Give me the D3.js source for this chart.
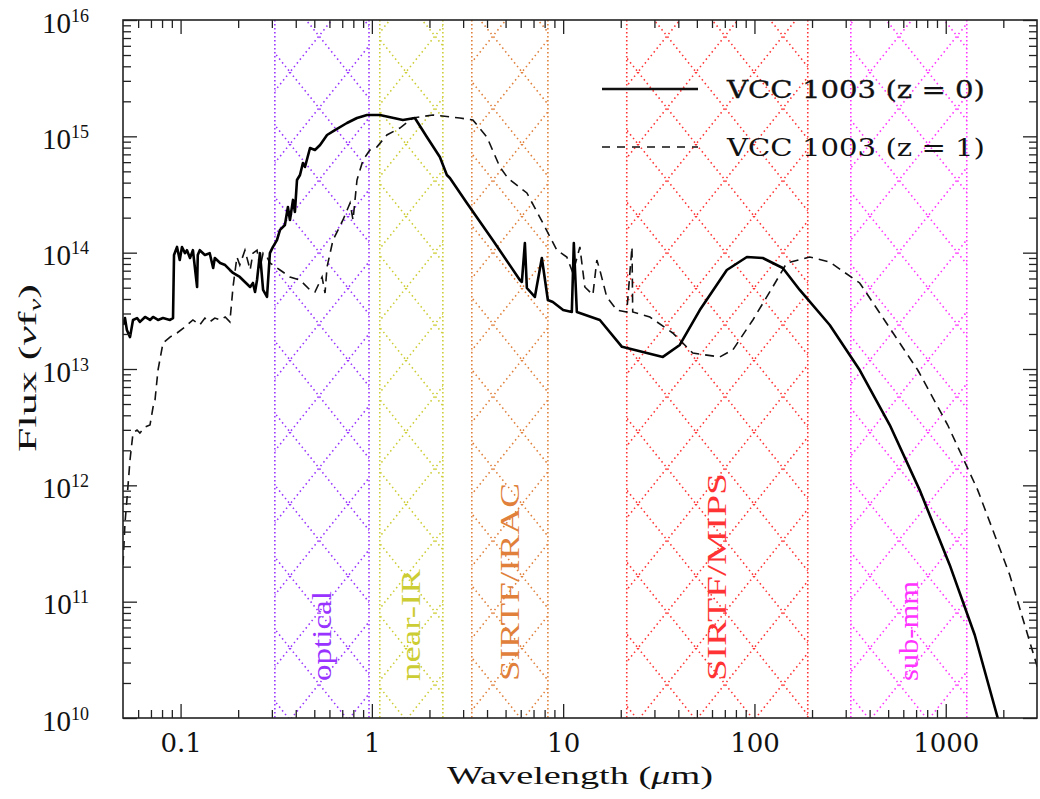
<!DOCTYPE html>
<html>
<head>
<meta charset="utf-8">
<script src="https://cdn.jsdelivr.net/npm/d3@7"></script>
<style>
body { margin: 0; background: #fff; }
svg { display: block; }
</style>
</head>
<body>
<svg width="1040" height="799"></svg>
<script>
// wavelength (micron) and flux (nu f_nu)
var solidLam = [0.05,0.0512,0.0524,0.0544,0.0564,0.0592,0.0613,0.0652,0.0692,0.0718,0.0762,0.0809,0.088,0.0913,0.0924,0.0958,0.099,0.1017,0.1054,0.108,0.112,0.116,0.122,0.123,0.126,0.134,0.142,0.148,0.151,0.161,0.171,0.181,0.188,0.204,0.217,0.231,0.239,0.245,0.251,0.260,0.270,0.283,0.293,0.304,0.319,0.331,0.351,0.364,0.373,0.387,0.396,0.406,0.421,0.436,0.447,0.475,0.504,0.536,0.583,0.641,0.741,0.836,0.943,1.101,1.452,1.678,1.939,2.267,2.466,2.557,3.138,4.291,5.937,6.084,6.308,6.461,7.112,7.737,8.318,8.834,10.0,11.1,11.37,11.79,15.55,20.3,33.2,40.7,51.8,71.7,91.3,110.5,140.6,172.5,247.5,355,510,731,1049,1418,1870,2161];
var solidFlux = [2.39e13,2.74e13,2.16e13,1.88e13,2.64e13,2.74e13,2.54e13,2.8e13,2.64e13,2.8e13,2.64e13,2.74e13,2.64e13,2.74e13,9.55e13,1.12e14,8.65e13,1.12e14,9.9e13,1.05e14,9.0e13,1.05e14,5.07e13,9.55e13,1.05e14,9.55e13,9.9e13,7.38e13,9.0e13,8.15e13,7.83e13,7.1e13,6.69e13,6.18e13,5.6e13,5.07e13,5.49e13,4.59e13,5.82e13,9.9e13,4.78e13,4.16e13,9.9e13,1.12e14,1.28e14,1.57e14,1.73e14,2.47e14,1.91e14,2.84e14,2.24e14,4.21e14,4.65e14,5.9e14,5.45e14,7.94e14,7.63e14,8.42e14,1.027e15,1.133e15,1.302e15,1.437e15,1.525e15,1.525e15,1.382e15,1.437e15,9.87e14,6.64e14,4.65e14,4.38e14,2.67e14,1.28e14,5.82e13,5.6e13,1.21e14,4.97e13,4.16e13,9.0e13,3.92e13,3.77e13,3.21e13,3.09e13,1.21e14,3.09e13,2.64e13,1.55e13,1.27e13,1.61e13,3.21e13,7.1e13,9.18e13,9.0e13,7.38e13,4.78e13,2.39e13,9.8e12,3.3e12,9.1e11,2.07e11,5.17e10,1.0e10,5.3e9];

var dashLam = [0.05,0.0512,0.0524,0.0544,0.0564,0.0592,0.0613,0.0652,0.0692,0.0718,0.0735,0.0762,0.0809,0.088,0.0958,0.1054,0.116,0.126,0.134,0.142,0.151,0.161,0.171,0.181,0.188,0.197,0.204,0.217,0.231,0.239,0.251,0.260,0.270,0.283,0.293,0.331,0.373,0.421,0.475,0.504,0.549,0.569,0.583,0.626,0.706,0.769,0.797,0.836,0.899,0.977,1.062,1.198,1.401,1.638,2.084,2.884,3.373,3.992,4.668,5.139,6.461,7.831,9.271,10.45,11.24,12.23,12.98,14.3,15.0,15.55,16.9,19.1,21.5,22.9,23.1,28.4,37.4,47.6,65.9,77.1,98.1,124.6,147.5,194.5,247.5,355,497.5,714,1024,1470,2161,3100];
var dashFlux = [2.07e11,4.74e11,7.48e11,1.65e12,2.82e12,2.99e12,2.82e12,3.17e12,3.3e12,4.71e12,5.41e12,9.8e12,1.67e13,1.88e13,2.04e13,2.3e13,2.64e13,2.39e13,2.74e13,2.54e13,2.74e13,2.64e13,2.8e13,2.54e13,5.07e13,9.18e13,7.83e13,1.05e14,7.1e13,9.9e13,1.05e14,7.38e13,9.9e13,9.18e13,8.15e13,7.1e13,6.18e13,5.82e13,4.78e13,4.59e13,6.18e13,4.5e13,7.53e13,1.28e14,1.91e14,2.67e14,1.91e14,4.21e14,6.26e14,7.63e14,8.1e14,1.027e15,1.179e15,1.437e15,1.525e15,1.437e15,1.382e15,9.87e14,5.45e14,4.38e14,3.26e14,1.8e14,1.05e14,9.18e13,6.69e13,1.12e14,5.07e13,4.33e13,8.65e13,7.1e13,4.16e13,3.21e13,3.09e13,1.12e14,3.09e13,2.8e13,2.04e13,1.37e13,1.27e13,1.46e13,2.64e13,5.07e13,8.15e13,9.18e13,8.31e13,5.49e13,2.39e13,9.8e12,3.3e12,9.1e11,1.696e11,2.34e10];

var bandNames = ["optical", "near-IR", "SIRTF/IRAC", "SIRTF/MIPS", "sub-mm"];
var bandLo = [0.311, 1.10, 3.33, 21.5, 319];
var bandHi = [0.966, 2.35, 8.32, 190, 1288];
var bandColors = ["#9933ff", "#cccc33", "#e0803a", "#ff3333", "#ff33ff"];

var xTickValues = [0.1, 1, 10, 100, 1000];
var yTickValues = [1e10, 1e11, 1e12, 1e13, 1e14, 1e15, 1e16];
var legendLabels = ["VCC 1003 (z = 0)", "VCC 1003 (z = 1)"];

var svg = d3.select("svg"),
    plotLeft = 123, plotTop = 20, plotRight = 1037, plotBottom = 718;

var x = d3.scaleLog().domain([0.05, 3000]).range([plotLeft, plotRight]);
var y = d3.scaleLog().domain([1e10, 1e16]).range([plotBottom, plotTop]);

// minor ticks 2..9 of every decade inside the domain
function minorTicks(scale) {
    var dom = scale.domain(), out = [];
    for (var p = Math.floor(Math.log10(dom[0])); p <= Math.ceil(Math.log10(dom[1])); p++) {
        for (var k = 2; k <= 9; k++) {
            var v = k * Math.pow(10, p);
            if (v > dom[0] * 1.001 && v < dom[1] * 0.999) out.push(v);
        }
    }
    return out;
}

var defs = svg.append("defs");
defs.append("clipPath").attr("id", "plot")
    .append("rect").attr("x", plotLeft).attr("y", plotTop)
    .attr("width", plotRight - plotLeft).attr("height", plotBottom - plotTop);

// cross hatch for the bands
bandColors.forEach((c, i) => {
    var p = defs.append("pattern")
        .attr("id", "hatch" + i)
        .attr("patternUnits", "userSpaceOnUse")
        .attr("width", 58).attr("height", 72);
    p.append("path")
        .attr("d", "M0,0L58,72M58,0L0,72")
        .attr("stroke", c)
        .attr("stroke-width", 1.6)
        .attr("stroke-dasharray", "1.5 3.2")
        .attr("fill", "none");
});

var gBands = svg.append("g").attr("clip-path", "url(#plot)");
bandNames.forEach((name, i) => {
    var x0 = x(bandLo[i]), x1 = x(bandHi[i]);
    gBands.append("rect")
        .attr("x", x0).attr("y", plotTop)
        .attr("width", x1 - x0).attr("height", plotBottom - plotTop)
        .attr("fill", "url(#hatch" + i + ")");
    [x0, x1].forEach(xx => {
        gBands.append("line")
            .attr("x1", xx).attr("x2", xx)
            .attr("y1", plotTop).attr("y2", plotBottom)
            .attr("stroke", bandColors[i])
            .attr("stroke-width", 1.6)
            .attr("stroke-dasharray", "1.5 2.5");
    });
});

// band labels, written upwards
var labelLen = [90, 112, 198, 208, 100];
bandNames.forEach((name, i) => {
    var xc = x(Math.sqrt(bandLo[i] * bandHi[i])) + 9;
    svg.append("text")
        .attr("transform", "translate(" + xc + ",681) rotate(-90)")
        .attr("font-family", "Liberation Serif")
        .attr("font-size", 27)
        .attr("fill", bandColors[i])
        .attr("textLength", labelLen[i])
        .attr("lengthAdjust", "spacingAndGlyphs")
        .text(name);
});

// curves
var line = d3.line().x(d => x(d[0])).y(d => y(d[1]));
var gCurves = svg.append("g").attr("clip-path", "url(#plot)");
gCurves.append("path")
    .attr("d", line(d3.zip(dashLam, dashFlux)))
    .attr("fill", "none")
    .attr("stroke", "#111")
    .attr("stroke-width", 1.6)
    .attr("stroke-dasharray", "9 6");
gCurves.append("path")
    .attr("d", line(d3.zip(solidLam, solidFlux)))
    .attr("fill", "none")
    .attr("stroke", "#000")
    .attr("stroke-width", 2.6)
    .attr("stroke-linejoin", "round");

// axes, ticks pointing inwards on all four sides
function styleAxis(g) {
    g.select(".domain").remove();
    g.selectAll(".tick line").attr("stroke", "#222").attr("stroke-width", 1.3);
}

svg.append("g").attr("transform", "translate(0," + plotBottom + ")")
    .call(d3.axisBottom(x).tickValues(minorTicks(x)).tickSize(-8).tickFormat(""))
    .call(styleAxis);
var gx = svg.append("g").attr("transform", "translate(0," + plotBottom + ")")
    .call(d3.axisBottom(x).tickValues(xTickValues).tickSize(-14).tickFormat(d3.format("")))
    .call(styleAxis);
gx.selectAll(".tick text")
    .attr("y", 34).attr("dy", null)
    .attr("font-family", "DejaVu Serif")
    .attr("font-size", 26)
    .attr("fill", "#111");

svg.append("g").attr("transform", "translate(0," + plotTop + ")")
    .call(d3.axisTop(x).tickValues(minorTicks(x)).tickSize(-8).tickFormat(""))
    .call(styleAxis);
svg.append("g").attr("transform", "translate(0," + plotTop + ")")
    .call(d3.axisTop(x).tickValues(xTickValues).tickSize(-14).tickFormat(""))
    .call(styleAxis);

svg.append("g").attr("transform", "translate(" + plotLeft + ",0)")
    .call(d3.axisLeft(y).tickValues(minorTicks(y)).tickSize(-8).tickFormat(""))
    .call(styleAxis);
var gy = svg.append("g").attr("transform", "translate(" + plotLeft + ",0)")
    .call(d3.axisLeft(y).tickValues(yTickValues).tickSize(-14).tickFormat(""))
    .call(styleAxis);
gy.selectAll(".tick text")
    .attr("x", -34).attr("y", 12).attr("dy", null)
    .attr("font-family", "Liberation Serif")
    .attr("font-size", 29)
    .attr("fill", "#111")
    .each(function (d) {
        var t = d3.select(this);
        t.append("tspan").text("10");
        t.append("tspan").attr("dy", -11).attr("font-size", 18).text(Math.round(Math.log10(d)));
    });

svg.append("g").attr("transform", "translate(" + plotRight + ",0)")
    .call(d3.axisRight(y).tickValues(minorTicks(y)).tickSize(-8).tickFormat(""))
    .call(styleAxis);
svg.append("g").attr("transform", "translate(" + plotRight + ",0)")
    .call(d3.axisRight(y).tickValues(yTickValues).tickSize(-14).tickFormat(""))
    .call(styleAxis);

svg.append("rect")
    .attr("x", plotLeft).attr("y", plotTop)
    .attr("width", plotRight - plotLeft).attr("height", plotBottom - plotTop)
    .attr("fill", "none").attr("stroke", "#222").attr("stroke-width", 1.6);

// axis titles
svg.append("text")
    .attr("x", 580).attr("y", 784)
    .attr("text-anchor", "middle")
    .attr("font-family", "Liberation Serif")
    .attr("font-size", 25)
    .attr("fill", "#111")
    .attr("textLength", 266)
    .attr("lengthAdjust", "spacingAndGlyphs")
    .html("Wavelength (<tspan font-style='italic'>μ</tspan>m)");

var ylab = svg.append("text")
    .attr("transform", "translate(36,368) rotate(-90)")
    .attr("text-anchor", "middle")
    .attr("font-family", "Liberation Serif")
    .attr("font-size", 26)
    .attr("fill", "#111")
    .attr("textLength", 168)
    .attr("lengthAdjust", "spacingAndGlyphs");
ylab.append("tspan").text("Flux (");
ylab.append("tspan").attr("font-style", "italic").text("ν");
ylab.append("tspan").text("f");
ylab.append("tspan").attr("font-style", "italic").attr("font-size", 17).attr("dy", 5).text("ν");
ylab.append("tspan").attr("dy", -5).text(")");

// legend
var legend = svg.append("g");
[89, 147].forEach((ly, i) => {
    legend.append("line")
        .attr("x1", 602).attr("x2", 698)
        .attr("y1", ly).attr("y2", ly)
        .attr("stroke", "#111")
        .attr("stroke-width", i == 0 ? 2.6 : 1.6)
        .attr("stroke-dasharray", i == 0 ? null : "8 7");
    legend.append("text")
        .attr("x", 727).attr("y", ly + 9)
        .attr("font-family", "DejaVu Serif")
        .attr("font-size", 24)
        .attr("fill", "#111")
        .attr("stroke", i == 0 ? "#111" : "none")
        .attr("stroke-width", 0.3)
        .attr("textLength", 258)
        .attr("lengthAdjust", "spacingAndGlyphs")
        .text(legendLabels[i]);
});
</script>
</body>
</html>
